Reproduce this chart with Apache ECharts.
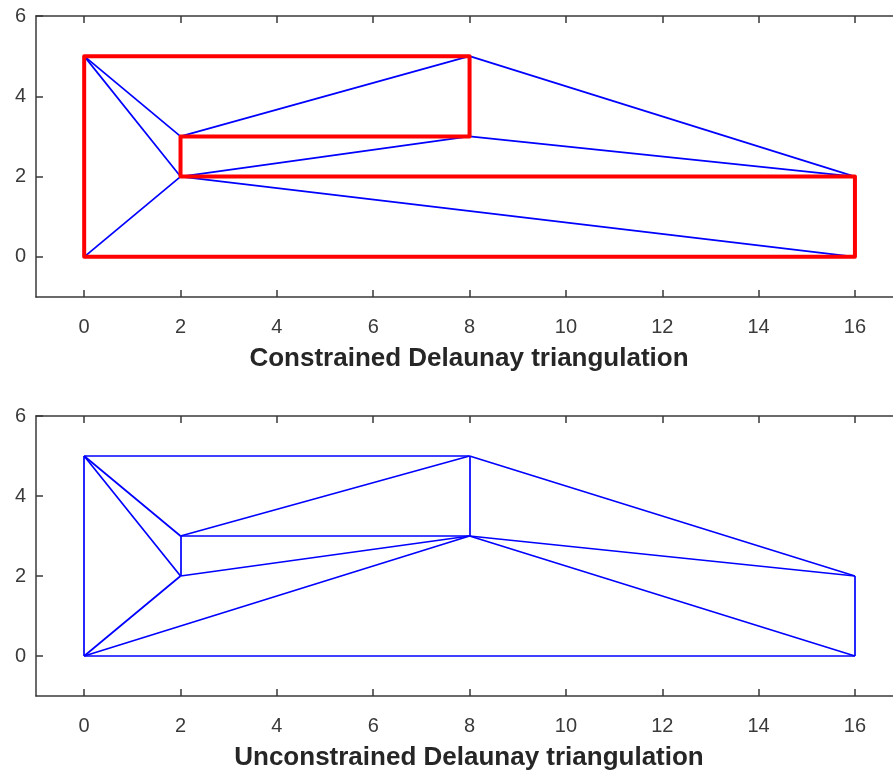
<!DOCTYPE html>
<html>
<head>
<meta charset="utf-8">
<script src="https://cdn.jsdelivr.net/npm/echarts@6/dist/echarts.min.js"></script>
<style>
html,body{margin:0;padding:0;background:#fff;}
#main{width:893px;height:772px;}
</style>
</head>
<body>
<div id="main"></div>
<script>
// Vertices of the triangulation
const points = [[0,0],[0,5],[2,2],[2,3],[8,3],[8,5],[16,2],[16,0]];
// Constrained triangulation: constraint boundary (closed polyline, vertex indices)
const constraintLoop = [0,1,5,4,3,2,6,7,0];
// Constrained triangulation: other (interior) edges
const constrainedEdges = [[1,3],[1,2],[0,2],[3,5],[2,4],[5,6],[4,6],[2,7]];
// Unconstrained triangulation edges
const unconstrainedEdges = [[0,1],[1,5],[5,4],[1,3],[1,2],[2,3],[3,4],[3,5],[2,4],[0,2],[0,4],[0,7],[5,6],[4,6],[4,7],[7,6]];
// Axis ticks
const xTicks = [0,2,4,6,8,10,12,14,16];
const yTicks = [0,2,4,6];
const titles = ['Constrained Delaunay triangulation','Unconstrained Delaunay triangulation'];

const loopEdges = [];
for (let i = 0; i < constraintLoop.length - 1; i++) loopEdges.push([constraintLoop[i], constraintLoop[i+1]]);
const allConstrained = constrainedEdges.concat(loopEdges);
const toLines = edges => edges.map(e => ({coords: [points[e[0]], points[e[1]]]}));

const FONT = 'Liberation Sans, Arial, sans-serif';
const axisColor = '#3a3a3a';
// the axes box continues past the right edge of the picture
const grids = [
  {left: 36, top: 16, width: 857, height: 281},
  {left: 36, top: 416, width: 857, height: 281}
];
const xMin = -1, xMax = 16.79, yMin = -1, yMax = 6;
const xAxes = [], yAxes = [];
grids.forEach((g, i) => {
  xAxes.push({
    type: 'value', gridIndex: i, min: xMin, max: xMax, position: 'bottom',
    name: titles[i], nameLocation: 'middle', nameGap: 49,
    nameTextStyle: {fontFamily: FONT, fontSize: 26, fontWeight: 'bold', color: '#262626', padding: [0, 0, 0, 9]},
    axisLine: {show: true, onZero: false, lineStyle: {color: axisColor, width: 1.5}},
    axisTick: {show: true, inside: true, length: 7, customValues: xTicks, lineStyle: {color: axisColor, width: 1.5}},
    axisLabel: {show: true, customValues: xTicks, margin: 20, fontFamily: FONT, fontSize: 20, color: '#3a3a3a'},
    splitLine: {show: false}
  });
  xAxes.push({
    type: 'value', gridIndex: i, min: xMin, max: xMax, position: 'top',
    axisLine: {show: true, onZero: false, lineStyle: {color: axisColor, width: 1.5}},
    axisTick: {show: true, inside: true, length: 7, customValues: xTicks, lineStyle: {color: axisColor, width: 1.5}},
    axisLabel: {show: false},
    splitLine: {show: false}
  });
  yAxes.push({
    type: 'value', gridIndex: i, min: yMin, max: yMax, position: 'left',
    axisLine: {show: true, onZero: false, lineStyle: {color: axisColor, width: 1.5}},
    axisTick: {show: true, inside: true, length: 7, customValues: yTicks, lineStyle: {color: axisColor, width: 1.5}},
    axisLabel: {show: true, customValues: yTicks, margin: 10, fontFamily: FONT, fontSize: 20, color: '#3a3a3a'},
    splitLine: {show: false}
  });
});

const chart = echarts.init(document.getElementById('main'), null, {renderer: 'canvas'});
chart.setOption({
  animation: false,
  backgroundColor: '#fff',
  grid: grids,
  xAxis: xAxes,
  yAxis: yAxes,
  series: [
    {type: 'lines', coordinateSystem: 'cartesian2d', xAxisIndex: 0, yAxisIndex: 0, silent: true,
     lineStyle: {color: '#0000ff', width: 1.7, opacity: 1}, data: toLines(allConstrained), z: 2},
    {type: 'lines', coordinateSystem: 'cartesian2d', xAxisIndex: 0, yAxisIndex: 0, silent: true, polyline: true,
     lineStyle: {color: '#ff0000', width: 4, opacity: 1, join: 'round', cap: 'round'},
     data: [{coords: constraintLoop.map(k => points[k])}], z: 3},
    {type: 'lines', coordinateSystem: 'cartesian2d', xAxisIndex: 2, yAxisIndex: 1, silent: true,
     lineStyle: {color: '#0000ff', width: 1.7, opacity: 1}, data: toLines(unconstrainedEdges), z: 2}
  ]
});
</script>
</body>
</html>
